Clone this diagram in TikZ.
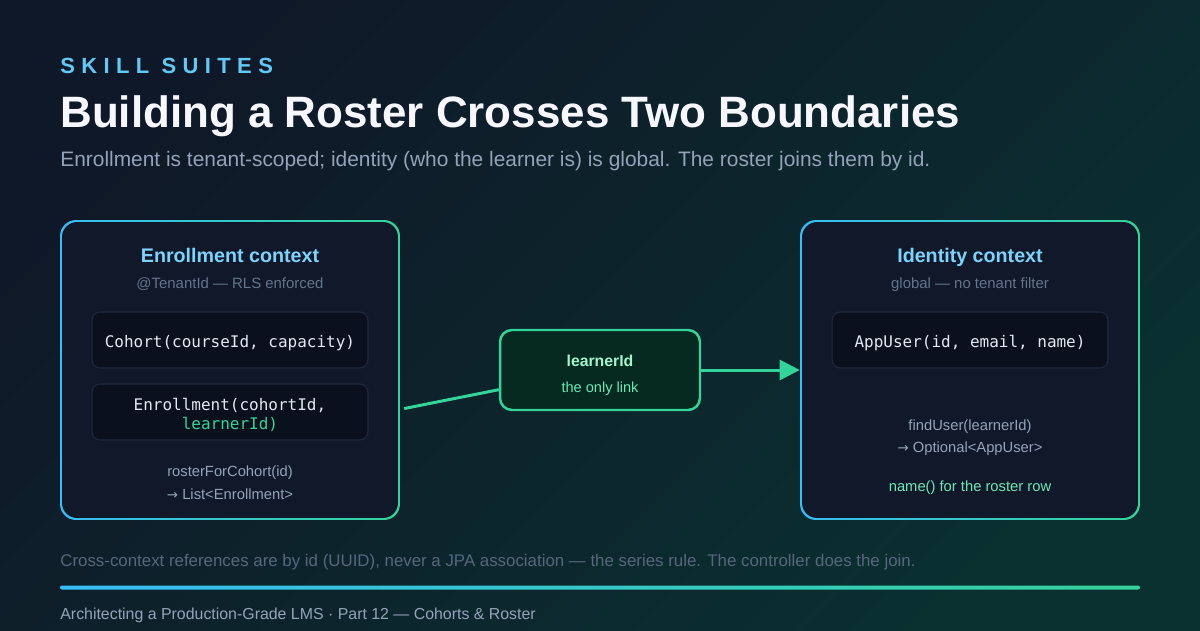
\documentclass[tikz,border=0pt]{standalone}
\usepackage{fontspec}
\setmainfont{Liberation Sans}
\setmonofont{DejaVu Sans Mono}
\newfontfamily\arrowfont{DejaVu Sans}
\usetikzlibrary{arrows.meta}
\definecolor{bgA}{HTML}{0F1828}
\definecolor{bgB}{HTML}{0A3030}
\definecolor{sky}{HTML}{38BDF8}
\definecolor{skyL}{HTML}{7DD3FC}
\definecolor{kick}{HTML}{62C9F4}
\definecolor{mint}{HTML}{34D399}
\definecolor{mintL}{HTML}{6EE7B7}
\definecolor{mintXL}{HTML}{A7F3D0}
\definecolor{panel}{HTML}{101829}
\definecolor{codebg}{HTML}{0A111C}
\definecolor{codeline}{HTML}{1E293B}
\definecolor{codetx}{HTML}{E2E8F0}
\definecolor{mute}{HTML}{64748B}
\definecolor{dim}{HTML}{56677B}
\definecolor{soft}{HTML}{94A3B8}
\definecolor{linkbg}{HTML}{062A20}
\newcommand{\fsz}[1]{\fontsize{#1}{#1}\selectfont}
\newcommand{\toarrow}{{\arrowfont\fontsize{7.6}{7.6}\selectfont →}}
\begin{document}
\begin{tikzpicture}[x=0.02cm,y=-0.02cm,every node/.style={inner sep=0pt},
  ctx/.style={minimum width=6.8cm,minimum height=6cm,rounded corners=0.32cm,left color=sky,right color=mint},
  ctxin/.style={minimum width=6.72cm,minimum height=5.92cm,rounded corners=0.3cm,fill=panel},
  codebox/.style={minimum width=5.52cm,minimum height=1.12cm,rounded corners=0.16cm,fill=codebg,draw=codeline,line width=0.6pt},
  linkbox/.style={minimum width=4cm,minimum height=1.6cm,rounded corners=0.24cm,fill=linkbg,draw=mint,line width=1.4pt},
  ctxtitle/.style={anchor=base,font=\fsz{11.2}\bfseries,text=skyL},
  ctxsub/.style={anchor=base,font=\fsz{8.5},text=mute},
  code/.style={anchor=base,font=\fsz{9.1}\ttfamily,text=codetx},
  note/.style={anchor=base,font=\fsz{8.4},text=soft},
  wire/.style={draw=mint,line width=1.7pt}]
% background
\shade[top color=bgA,bottom color=bgB,shading angle=45] (0,0) rectangle (1200,630);
\useasboundingbox (0,0) rectangle (1200,630);
% heading
\node[anchor=base west,font=\fsz{12.5}\bfseries\addfontfeature{LetterSpace=29},text=kick] (kicker) at (60,73) {SKILL SUITES};
\node[anchor=base west,font=\fsz{25}\bfseries,text=white!97!blue] (title) at (60,127) {Building a Roster Crosses Two Boundaries};
\node[anchor=base west,font=\fsz{11.9},text=soft] (sub) at (60,166) {Enrollment is tenant-scoped; identity (who the learner is) is global. The roster joins them by id.};
% enrollment context
\node[ctx] (enroll) at (230,370) {};
\node[ctxin] (enrollIn) at (enroll) {};
\node[ctxtitle] (enrollT) at (230,262) {Enrollment context};
\node[ctxsub] (enrollS) at (230,288) {@TenantId — RLS enforced};
\node[codebox] (cohort) at (230,340) {};
\node[code] (cohortT) at (230,347) {Cohort(courseId, capacity)};
\node[codebox] (enrolment) at (230,412) {};
\node[code] (enrolmentA) at (230,410) {Enrollment(cohortId,};
\node[code,text=mint] (enrolmentB) at (230,429.5) {learnerId)};
\node[note] (roster1) at (230,476.5) {rosterForCohort(id)};
\node[note] (roster2) at (230,499) {\toarrow{} List<Enrollment>};
% identity context
\node[ctx] (ident) at (970,370) {};
\node[ctxin] (identIn) at (ident) {};
\node[ctxtitle] (identT) at (970,262) {Identity context};
\node[ctxsub] (identS) at (970,288) {global — no tenant filter};
\node[codebox] (appuser) at (970,340) {};
\node[code] (appuserT) at (970,347) {AppUser(id, email, name)};
\node[note] (find1) at (970,430) {findUser(learnerId)};
\node[note] (find2) at (970,452) {\toarrow{} Optional<AppUser>};
\node[note,text=mintL] (rowname) at (970,491) {name() for the roster row};
% the link
\node[linkbox] (link) at (600,370) {};
\node[anchor=base,font=\fsz{9}\bfseries,text=mintXL] (linkT) at (600,366) {learnerId};
\node[anchor=base,font=\fsz{8.3},text=mintL] (linkS) at (600,392) {the only link};
\draw[wire,shorten <=0.08cm] (enroll.-13.6) -- (link.191.3);
\draw[wire,-{Triangle[length=0.4cm,width=0.4cm]}] (link.east) -- (ident.west);
% footer
\node[anchor=base west,font=\fsz{9.6},text=dim] (rule) at (60,566) {Cross-context references are by id (UUID), never a JPA association — the series rule. The controller does the join.};
\shade[left color=sky,right color=mint,rounded corners=0.04cm] (60,585.5) rectangle (1140,589.5);
\node[anchor=base west,font=\fsz{9.05},text=soft] (credit) at (60,619) {Architecting a Production-Grade LMS · Part 12 — Cohorts \& Roster};
\end{tikzpicture}
\end{document}
